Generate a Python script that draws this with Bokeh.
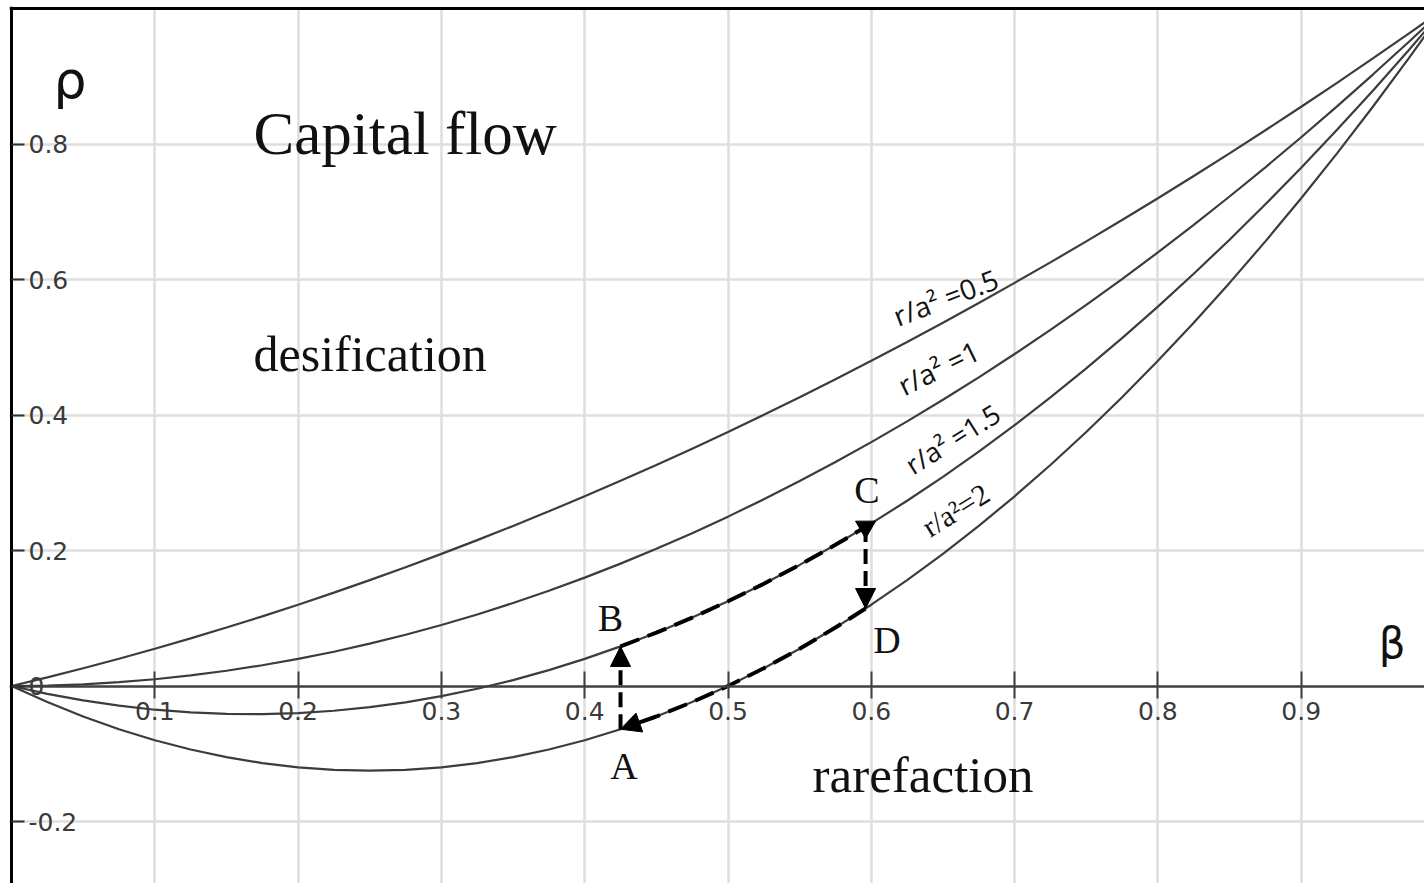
from bokeh.plotting import figure
from bokeh.models import LinearAxis, Grid, FixedTicker, Range1d, Arrow, NormalHead, Label
from bokeh.embed import file_html
from bokeh.resources import INLINE

# beta grid and rho curves for each r/a^2 value
beta = [0.0, 0.025, 0.05, 0.075, 0.1, 0.125, 0.15, 0.175, 0.2, 0.225, 0.25,
        0.275, 0.3, 0.325, 0.35, 0.375, 0.4, 0.425, 0.45, 0.475, 0.5,
        0.525, 0.55, 0.575, 0.6, 0.625, 0.65, 0.675, 0.7, 0.725, 0.75,
        0.775, 0.8, 0.825, 0.85, 0.875, 0.9, 0.925, 0.95, 0.975, 1.0]
rho_k05 = [0.0, 0.01281, 0.02625, 0.04031, 0.055, 0.07031, 0.08625, 0.10281, 0.12, 0.13781, 0.15625,
           0.17531, 0.195, 0.21531, 0.23625, 0.25781, 0.28, 0.30281, 0.32625, 0.35031, 0.375,
           0.40031, 0.42625, 0.45281, 0.48, 0.50781, 0.53625, 0.56531, 0.595, 0.62531, 0.65625,
           0.68781, 0.72, 0.75281, 0.78625, 0.82031, 0.855, 0.89031, 0.92625, 0.96281, 1.0]
rho_k1 = [0.0, 0.000625, 0.0025, 0.005625, 0.01, 0.015625, 0.0225, 0.030625, 0.04, 0.050625, 0.0625,
          0.075625, 0.09, 0.105625, 0.1225, 0.140625, 0.16, 0.180625, 0.2025, 0.225625, 0.25,
          0.275625, 0.3025, 0.330625, 0.36, 0.390625, 0.4225, 0.455625, 0.49, 0.525625, 0.5625,
          0.600625, 0.64, 0.680625, 0.7225, 0.765625, 0.81, 0.855625, 0.9025, 0.950625, 1.0]
rho_k15 = [0.0, -0.01156, -0.02125, -0.02906, -0.035, -0.03906, -0.04125, -0.04156, -0.04, -0.03656, -0.03125,
           -0.02406, -0.015, -0.00406, 0.00875, 0.02344, 0.04, 0.05844, 0.07875, 0.10094, 0.125,
           0.15094, 0.17875, 0.20844, 0.24, 0.27344, 0.30875, 0.34594, 0.385, 0.42594, 0.46875,
           0.51344, 0.56, 0.60844, 0.65875, 0.71094, 0.765, 0.82094, 0.87875, 0.93844, 1.0]
rho_k2 = [0.0, -0.02375, -0.045, -0.06375, -0.08, -0.09375, -0.105, -0.11375, -0.12, -0.12375, -0.125,
          -0.12375, -0.12, -0.11375, -0.105, -0.09375, -0.08, -0.06375, -0.045, -0.02375, 0.0,
          0.02625, 0.055, 0.08625, 0.12, 0.15625, 0.195, 0.23625, 0.28, 0.32625, 0.375,
          0.42625, 0.48, 0.53625, 0.595, 0.65625, 0.72, 0.78625, 0.855, 0.92625, 1.0]
curve_names = ["r/a² =0.5", "r/a² =1", "r/a² =1.5", "r/a²=2"]

# cycle A -> B -> C -> D -> A
path_bc_beta = [0.425, 0.45, 0.475, 0.5, 0.525, 0.55, 0.575, 0.596]
path_bc_rho = [0.0584, 0.0788, 0.1009, 0.125, 0.1509, 0.1788, 0.2084, 0.2348]
path_da_beta = [0.596, 0.575, 0.55, 0.525, 0.5, 0.475, 0.45, 0.425]
path_da_rho = [0.1144, 0.0863, 0.055, 0.0263, 0.0, -0.0238, -0.045, -0.0638]
point_names = ["A", "B", "C", "D"]

x_ticks = [0.1, 0.2, 0.3, 0.4, 0.5, 0.6, 0.7, 0.8, 0.9]
y_ticks = [-0.2, 0.0, 0.2, 0.4, 0.6, 0.8]
y_grid_ticks = [-0.2, 0.2, 0.4, 0.6, 0.8]

p = figure(width=1424, height=883,
           x_range=Range1d(-0.0014, 0.98604), y_range=Range1d(-0.2915, 1.00295),
           x_axis_type=None, y_axis_type=None,
           output_backend="svg", toolbar_location=None,
           outline_line_color=None, background_fill_color="white",
           border_fill_color="white")
p.min_border = 0
p.min_border_left = 9
p.min_border_top = 6
p.min_border_right = 0
p.min_border_bottom = 0

grid_style = dict(grid_line_color="#dedede", grid_line_width=2.5)
p.add_layout(Grid(dimension=0, ticker=FixedTicker(ticks=x_ticks), **grid_style))
p.add_layout(Grid(dimension=1, ticker=FixedTicker(ticks=y_grid_ticks), **grid_style))

tick_font = dict(major_label_text_font="DejaVu Sans", major_label_text_font_size="25px",
                 major_label_text_color="#3a3a3a", minor_tick_line_color=None)

xaxis = LinearAxis(fixed_location=0, ticker=FixedTicker(ticks=x_ticks),
                   axis_line_color="#404040", axis_line_width=2.5,
                   major_tick_line_color="#404040", major_tick_line_width=2,
                   major_tick_in=15, major_tick_out=12, major_label_standoff=4,
                   **tick_font)
p.add_layout(xaxis, "below")

yaxis = LinearAxis(fixed_location=0, ticker=FixedTicker(ticks=y_ticks),
                   axis_line_color="black", axis_line_width=3,
                   major_tick_line_color="#303030", major_tick_line_width=2,
                   major_tick_in=0, major_tick_out=13, major_label_standoff=4,
                   major_label_overrides={0: "0", -0.2: "-0.2"},
                   **tick_font)
p.add_layout(yaxis, "right")

top = LinearAxis(fixed_location=1.0, ticker=FixedTicker(ticks=[]),
                 axis_line_color="black", axis_line_width=3,
                 major_tick_line_color=None, minor_tick_line_color=None,
                 major_label_text_font_size="0px")
p.add_layout(top, "above")

# the four curves
for rho in (rho_k05, rho_k1, rho_k15, rho_k2):
    p.line(beta, rho, line_color="#3c3c3c", line_width=2.2)

# curve labels along the lines
label_pos = [(0.6518, 0.574, 21), (0.6469, 0.470, 26), (0.6567, 0.365, 32), (0.6588, 0.260, 32)]
label_fonts = ["Open Sans", "Open Sans", "Open Sans", "Liberation Serif"]
label_sizes = ["28px", "28px", "27px", "30px"]
for name, (bx, ry, ang), fnt, fs in zip(curve_names, label_pos, label_fonts, label_sizes):
    p.add_layout(Label(x=bx, y=ry, text=name, angle=ang, angle_units="deg",
                       text_align="center", text_baseline="middle",
                       text_font=fnt, text_font_size=fs, text_color="#111111"))

# cycle paths
cyc = dict(line_color="black", line_width=4)
p.line(path_bc_beta, path_bc_rho, line_dash="20 9", **cyc)
p.line(path_da_beta[:-1], path_da_rho[:-1], line_dash="20 9", **cyc)

A = (path_da_beta[-1], path_da_rho[-1])
B = (path_bc_beta[0], path_bc_rho[0])
C = (path_bc_beta[-1], path_bc_rho[-1])
D = (path_da_beta[0], path_da_rho[0])

def head():
    return NormalHead(size=20, fill_color="black", line_color="black", line_width=1)

# A -> B (up)
p.add_layout(Arrow(x_start=A[0], y_start=A[1], x_end=B[0], y_end=B[1], end=head(),
                   line_dash="15 7", **cyc))
# C -> D (down)
p.add_layout(Arrow(x_start=C[0], y_start=C[1], x_end=D[0], y_end=D[1], end=head(),
                   line_dash="15 7", **cyc))
# last leg of D -> A
p.add_layout(Arrow(x_start=path_da_beta[-2], y_start=path_da_rho[-2], x_end=A[0], y_end=A[1],
                   end=head(), line_dash="20 9", **cyc))
# tail marker at C
p.scatter([C[0]], [C[1]], marker="inverted_triangle", size=20, fill_color="black",
          line_color="black")

# point letters
letter_pos = [(0.4274, -0.1174), (0.418, 0.101), (0.597, 0.2899), (0.611, 0.0685)]
for name, (bx, ry) in zip(point_names, letter_pos):
    p.add_layout(Label(x=bx, y=ry, text=name, text_align="center", text_baseline="alphabetic",
                       text_font="Liberation Serif", text_font_size="38px", text_color="#111111"))

# region captions
p.add_layout(Label(x=0.1689, y=0.8155, text="Capital flow", text_align="left",
                   text_baseline="alphabetic", text_font="Liberation Serif",
                   text_font_size="61px", text_color="#111111"))
p.add_layout(Label(x=0.1689, y=0.4903, text="desification", text_align="left",
                   text_baseline="alphabetic", text_font="Liberation Serif",
                   text_font_size="50px", text_color="#111111"))
p.add_layout(Label(x=0.559, y=-0.1319, text="rarefaction", text_align="left",
                   text_baseline="alphabetic", text_font="Liberation Serif",
                   text_font_size="51px", text_color="#111111"))

# axis symbols
p.add_layout(Label(x=0.0408, y=0.8952, text="ρ", text_align="center", text_baseline="alphabetic",
                   text_font="DejaVu Sans", text_font_size="52px", text_color="#111111"))
p.add_layout(Label(x=0.9634, y=0.0627, text="β", text_align="center", text_baseline="alphabetic",
                   text_font="DejaVu Sans", text_font_size="42px", text_color="#111111"))

open("out.html", "w").write(file_html(p, INLINE))
